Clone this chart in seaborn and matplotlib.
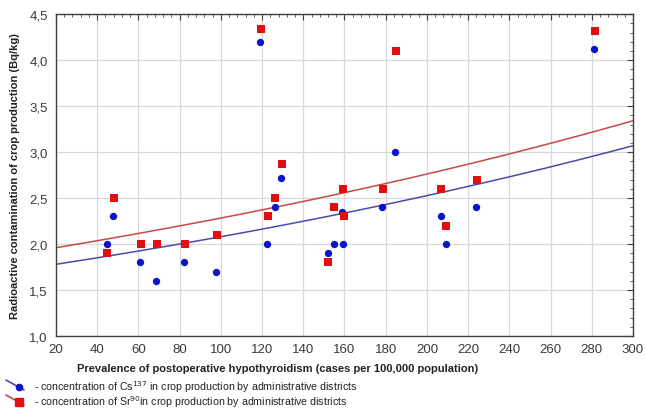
import numpy as np
import pandas as pd
import matplotlib
matplotlib.use("Agg")
import matplotlib.pyplot as plt
from matplotlib.lines import Line2D
from matplotlib.ticker import MultipleLocator, FuncFormatter
import seaborn as sns

# ---- data ----
x_cs = [44.6, 47.7, 60.8, 68.7, 82.3, 97.8, 119.1, 122.4, 126.1, 129.1, 151.8, 154.7,
        158.8, 159.3, 178.3, 184.5, 206.6, 209.1, 224.0, 281.0]
cs137 = [2.0, 2.3, 1.8, 1.6, 1.8, 1.7, 4.2, 2.0, 2.4, 2.72, 1.9, 2.0,
         2.35, 2.0, 2.4, 3.0, 2.3, 2.0, 2.4, 4.12]
x_sr = [44.9, 48.0, 61.1, 69.0, 82.6, 98.1, 119.3, 122.7, 126.4, 129.8, 152.1, 154.9,
        159.1, 159.6, 178.7, 184.8, 206.8, 209.2, 224.3, 281.4]
sr90 = [1.9, 2.5, 2.0, 2.0, 2.0, 2.1, 4.34, 2.3, 2.5, 2.87, 1.8, 2.4,
        2.6, 2.3, 2.6, 4.1, 2.6, 2.2, 2.7, 4.32]

# exponential fit curves y = a*exp(b*x), coefficients
fit_cs_a, fit_cs_b = 1.712, 0.001946
fit_sr_a, fit_sr_b = 1.887, 0.001904

x_label = "Prevalence of postoperative hypothyroidism (cases per 100,000 population)"
y_label = "Radioactive contamination of crop production (Bq/kg)"
legend_labels = ["- concentration of Cs$^{137}$ in crop production by administrative districts",
                 "- concentration of Sr$^{90}$in crop production by administrative districts"]

sns.set_style("white")
plt.rcParams["font.family"] = ["Liberation Sans", "DejaVu Sans"]

fig = plt.figure(figsize=(6.45, 4.10), dpi=100)
ax = fig.add_axes([0.0868, 0.178, 0.8946, 0.785])

blue = "#0a14c8"
red = "#e01010"
blue_line = "#4a4aa8"
red_line = "#c84848"

xx = np.linspace(20, 300, 200)
fit = pd.DataFrame({"x": np.concatenate([xx, xx]),
                    "y": np.concatenate([fit_cs_a * np.exp(fit_cs_b * xx),
                                         fit_sr_a * np.exp(fit_sr_b * xx)]),
                    "s": ["cs"] * len(xx) + ["sr"] * len(xx)})
sns.lineplot(data=fit, x="x", y="y", hue="s", palette={"cs": blue_line, "sr": red_line},
             linewidth=1.1, legend=False, ax=ax, zorder=2)

sns.scatterplot(x=x_cs, y=cs137, marker="o", color=blue, s=28, linewidth=0, ax=ax, zorder=3)
sns.scatterplot(x=x_sr, y=sr90, marker="s", color=red, s=40, linewidth=0, ax=ax, zorder=4)

ax.set_xlim(20, 300)
ax.set_ylim(1.0, 4.5)
ax.xaxis.set_major_locator(MultipleLocator(20))
ax.yaxis.set_major_locator(MultipleLocator(0.5))
ax.xaxis.set_minor_locator(MultipleLocator(4))
ax.yaxis.set_minor_locator(MultipleLocator(0.1))
ax.yaxis.set_major_formatter(FuncFormatter(lambda v, p: f"{v:.1f}".replace(".", ",")))
ax.grid(True, which="major", color="#d8d8d8", linewidth=0.9)
ax.set_axisbelow(True)
ax.tick_params(which="both", direction="in", top=True, right=True, colors="#404040",
               labelcolor="#3a3a3a", labelsize=9.5)
ax.tick_params(which="major", length=4, width=0.8)
ax.tick_params(which="minor", length=2, width=0.6)
ax.tick_params(axis="x", pad=5)
ax.tick_params(axis="y", pad=6)
for sp in ax.spines.values():
    sp.set_color("#404040")
    sp.set_linewidth(1.0)

ax.set_xlabel(x_label, fontsize=8.0, fontweight="bold", color="#222222")
ax.xaxis.set_label_coords((278 - 56) / 577, -0.085)
ax.set_ylabel(y_label, fontsize=8.0, fontweight="bold", color="#222222")
ax.yaxis.set_label_coords(-(56 - 20) / 577, 0.5)

# custom legend at bottom-left
for i, (lc, mc, mk) in enumerate([(blue_line, blue, "o"), (red_line, red, "s")]):
    yc = 387 + 15 * i
    y0 = 1 - yc / 410
    fig.add_artist(Line2D([6 / 645, 24 / 645], [1 - (yc - 6) / 410, 1 - (yc + 4) / 410],
                          transform=fig.transFigure, color=lc, linewidth=1.2))
    fig.add_artist(Line2D([19 / 645], [1 - (yc + 1) / 410], transform=fig.transFigure,
                          marker=mk, color=mc, markersize=4.5 if mk == "o" else 5.5,
                          linestyle="none"))
    fig.text(34 / 645, y0, legend_labels[i], fontsize=7.7, va="center", ha="left",
             color="#222222")

fig.savefig("out.png", dpi=100)
